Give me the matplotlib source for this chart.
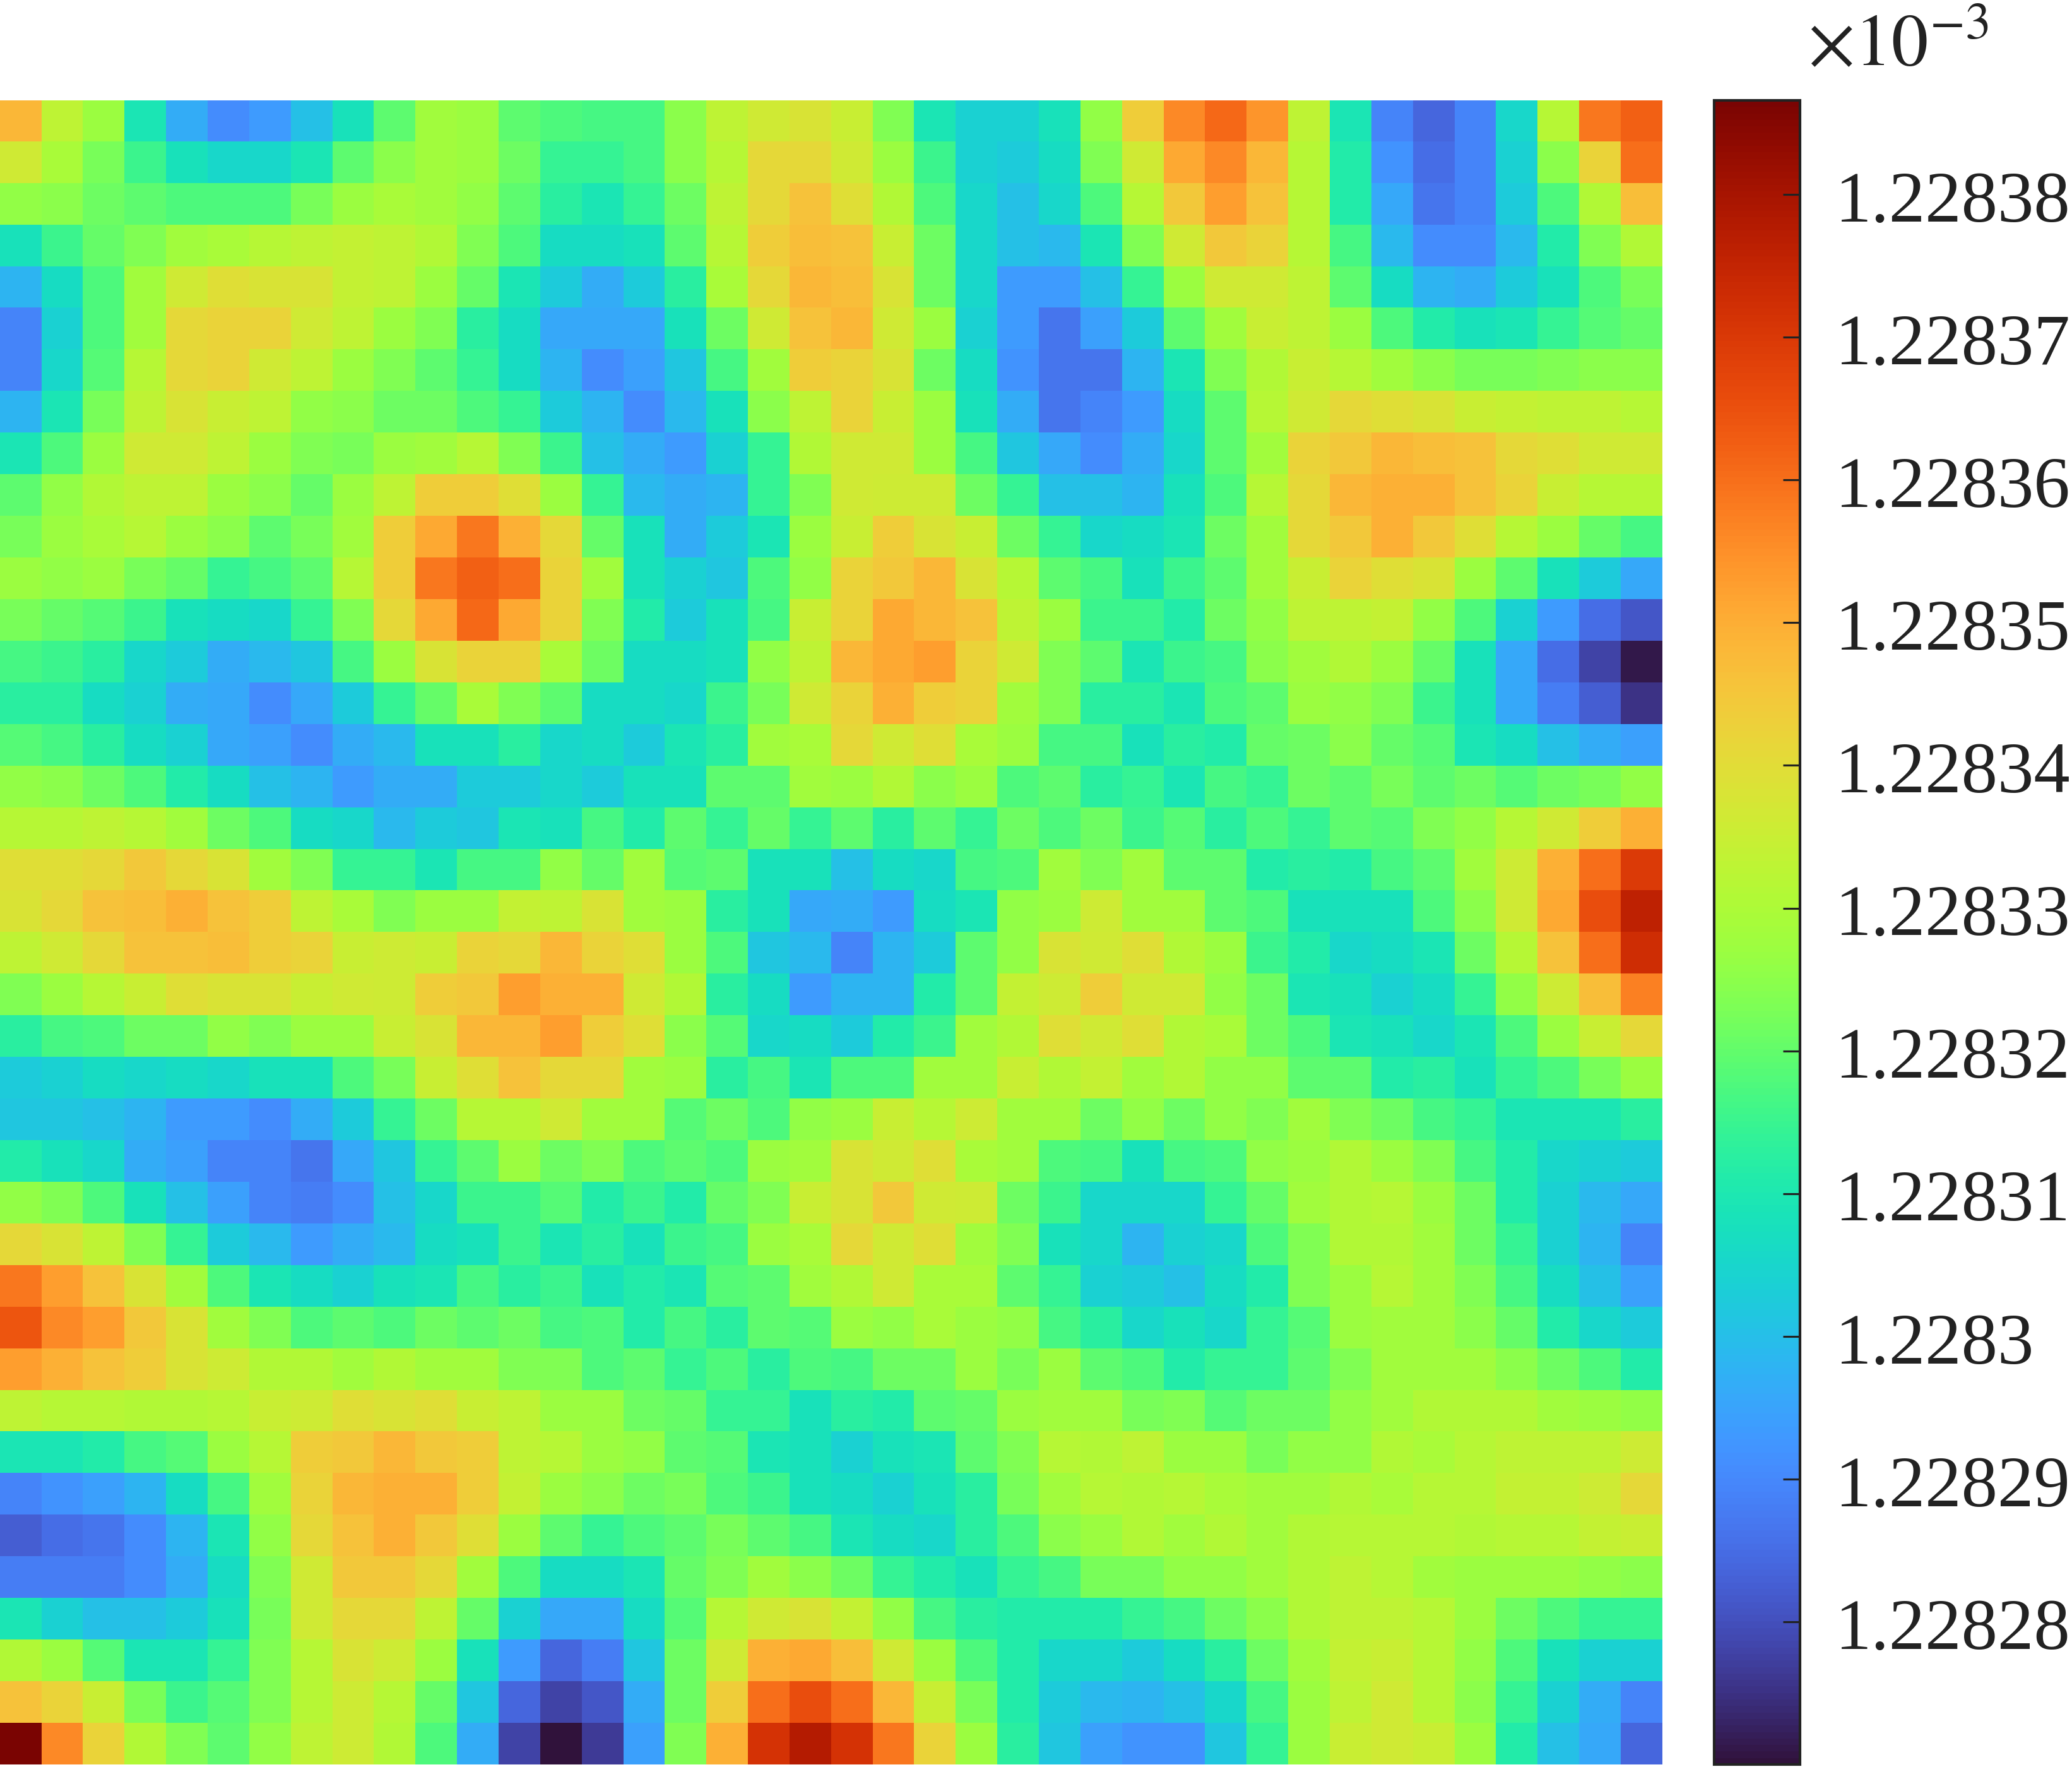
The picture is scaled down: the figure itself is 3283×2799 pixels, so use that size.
import numpy as np
import matplotlib
matplotlib.use("Agg")
import matplotlib.pyplot as plt
from matplotlib.transforms import ScaledTranslation

# Cell values, as colour grades (0 = lowest, 100 = highest)
row00 = [63,50,45,30,20,15,17,23,29,38,46,45,38,36,35,35,43,50,54,55, 52,42,30,26,26,29,44,59,68,72,67,50,30,14,10,14,27,49,70,73]
row01 = [54,47,41,34,29,27,27,30,38,43,46,45,40,33,33,35,43,49,57,57, 54,45,34,26,25,28,42,54,65,68,63,49,31,16,11,14,26,43,58,71]
row02 = [44,43,40,38,36,36,36,41,45,47,46,44,38,32,30,33,40,50,57,61, 56,48,36,27,23,27,36,49,60,66,61,49,31,19,12,14,25,36,48,62]
row03 = [29,34,39,42,46,47,49,50,51,50,48,42,36,28,28,29,38,49,59,62, 61,52,40,27,23,22,30,42,54,60,58,49,35,22,15,15,22,31,42,48]
row04 = [21,28,36,46,54,56,55,55,51,50,45,39,30,25,20,25,32,47,57,63, 62,55,40,27,17,17,23,33,45,54,54,50,38,28,21,20,25,29,36,41]
row05 = [14,26,36,46,57,58,58,54,50,45,42,32,28,19,19,19,29,40,54,61, 63,54,45,26,17,12,18,25,38,46,52,50,45,36,31,29,30,33,37,39]
row06 = [14,27,37,49,57,58,54,50,45,42,38,33,28,21,15,18,24,35,46,59, 58,55,40,28,16,12,12,21,30,42,48,52,49,46,43,41,41,42,43,43]
row07 = [21,30,41,50,55,52,50,44,43,40,40,36,33,25,21,15,22,29,43,50, 58,52,45,29,20,12,14,17,28,38,49,54,57,56,55,52,51,50,50,49]
row08 = [30,36,45,54,54,50,45,42,41,45,46,49,42,34,23,20,17,26,33,48, 54,54,45,35,24,19,15,20,27,38,46,58,60,63,62,61,57,56,54,54]
row09 = [38,44,48,50,50,45,43,39,45,50,59,59,56,45,33,22,20,21,33,42, 54,53,53,40,33,23,23,21,29,36,49,57,63,64,64,61,58,52,49,49]
row10 = [41,45,47,49,45,43,38,41,46,59,65,70,64,57,39,29,20,25,30,45, 52,59,55,52,40,33,27,28,30,40,46,57,60,64,60,56,49,45,39,35]
row11 = [45,44,45,41,39,33,35,38,49,59,70,73,71,58,46,29,26,24,36,44, 58,60,63,55,49,38,35,29,34,38,46,52,58,56,55,45,38,29,25,19]
row12 = [41,39,37,34,29,28,27,33,42,57,65,72,65,58,42,31,25,29,35,52, 58,65,63,61,50,45,34,34,31,40,44,50,50,51,44,36,26,17,11,8]
row13 = [35,34,32,27,25,20,22,24,35,45,55,58,58,47,40,28,28,29,44,50, 63,65,66,58,54,42,38,30,34,35,43,46,48,45,39,29,19,11,6,1]
row14 = [32,32,28,26,20,19,15,19,25,33,39,47,42,38,28,28,27,34,41,54, 58,64,59,58,46,42,32,32,30,36,38,45,44,42,34,29,19,13,9,4]
row15 = [37,35,32,28,26,19,18,15,20,22,29,29,32,27,28,25,30,32,46,47, 57,54,56,47,45,35,35,29,32,31,39,40,43,39,37,30,28,23,20,18]
row16 = [44,43,40,36,31,28,23,21,17,20,20,25,25,27,25,29,29,38,38,46, 45,48,43,45,36,38,32,33,30,35,33,40,38,41,38,40,37,40,41,44]
row17 = [49,49,50,49,46,40,36,28,27,22,25,24,30,29,35,31,38,33,39,33, 38,32,38,33,40,36,40,34,37,32,36,33,38,37,42,44,49,54,59,64]
row18 = [56,56,57,60,57,55,46,42,33,33,30,35,35,44,39,46,37,38,29,29, 23,28,27,35,36,46,42,46,38,38,31,32,31,35,38,46,53,64,71,77]
row19 = [55,57,61,62,64,61,59,50,47,42,45,45,51,50,55,46,45,32,29,19, 20,17,28,30,44,45,53,46,46,38,36,29,29,29,36,43,54,65,75,85]
row20 = [50,54,57,61,61,62,59,58,52,53,52,58,57,63,58,56,45,36,24,22, 14,21,25,38,44,55,54,56,48,45,34,31,27,28,30,40,49,61,71,80]
row21 = [42,45,49,52,56,55,55,52,54,53,59,60,66,64,64,54,48,32,28,17, 21,21,31,38,51,53,59,54,54,44,40,30,29,26,28,33,44,53,62,69]
row22 = [32,35,36,40,40,44,42,45,45,52,55,63,63,66,59,56,43,37,27,28, 25,31,34,46,48,56,54,56,48,47,40,36,30,29,27,30,36,45,52,57]
row23 = [25,26,28,27,28,27,29,29,36,41,52,56,61,57,57,46,45,32,35,30, 36,36,46,46,52,48,51,46,48,44,44,38,38,31,32,29,33,36,41,45]
row24 = [24,24,23,21,17,17,15,20,25,33,40,49,49,54,46,46,37,40,36,44, 45,52,49,53,46,46,40,44,40,44,42,46,42,40,35,33,30,30,30,32]
row25 = [31,29,27,20,18,14,14,12,19,24,33,38,45,40,42,36,38,36,45,46, 55,54,56,47,46,36,35,29,35,36,44,45,48,45,42,35,31,27,26,25]
row26 = [44,42,36,29,23,18,14,13,15,23,27,34,34,37,31,34,31,39,42,52, 55,60,54,53,40,34,27,27,27,33,39,46,48,49,45,40,31,26,22,19]
row27 = [57,55,50,42,33,25,22,17,20,22,28,29,34,30,32,29,34,35,45,47, 57,54,56,46,42,29,27,21,26,27,36,42,48,48,46,40,33,26,21,14]
row28 = [70,66,61,55,46,36,30,28,26,29,30,35,32,34,29,31,30,37,38,46, 48,54,47,47,38,33,26,25,23,28,31,42,45,49,46,42,35,28,23,18]
row29 = [74,68,66,60,55,46,42,36,38,36,40,38,40,35,36,31,35,32,38,37, 45,44,47,45,44,35,32,27,29,27,33,37,45,46,46,43,39,31,27,25]
row30 = [66,64,61,59,55,53,48,48,46,48,46,46,42,42,36,38,33,36,32,36, 35,40,40,45,41,45,38,36,31,33,33,38,42,46,46,46,43,40,36,31]
row31 = [50,49,49,48,48,49,52,53,56,55,56,52,50,45,45,40,39,33,33,29, 32,31,38,39,45,46,46,41,42,37,40,40,44,46,48,48,48,46,45,44]
row32 = [30,30,31,35,37,45,49,59,60,63,60,59,50,49,45,44,38,37,30,29, 26,29,30,38,42,49,48,50,45,45,41,44,44,48,47,49,50,50,50,53]
row33 = [14,16,18,21,28,35,46,58,63,64,64,59,51,45,43,40,41,36,34,29, 28,26,29,32,41,46,49,48,49,47,46,46,48,47,49,49,51,51,53,57]
row34 = [9,11,12,15,21,30,44,57,61,64,60,56,45,38,33,36,38,41,38,35, 30,28,27,32,36,43,45,48,46,48,46,48,49,49,49,48,49,49,51,52]
row35 = [13,13,13,15,20,28,42,54,60,60,57,46,36,28,28,30,39,42,46,43, 40,33,31,29,33,35,41,41,44,44,46,48,50,49,46,45,45,45,44,43]
row36 = [30,26,23,23,25,29,41,54,57,57,50,39,26,19,19,28,37,49,54,55, 51,44,35,32,31,31,31,33,35,40,43,48,50,50,49,45,40,36,33,33]
row37 = [48,45,37,30,30,33,42,49,55,53,45,29,17,10,13,24,40,54,64,65, 62,54,45,36,31,27,27,25,28,32,40,46,51,52,49,44,36,29,26,26]
row38 = [61,58,52,41,34,37,42,49,53,49,39,24,10,6,8,20,40,59,71,75, 71,63,52,41,31,25,22,21,23,27,35,45,50,54,49,43,33,26,20,14]
row39 = [100,68,58,48,42,38,44,50,53,48,36,20,6,0,5,18,42,64,78,87, 78,70,58,45,32,24,18,16,16,24,33,45,52,54,52,45,31,23,19,10]

# My colour grades against their place on the colour bar (percent of its height)
grade_read = [0, 1, 6, 10, 14, 17, 20, 23, 26, 29, 33, 36, 40, 45, 50, 54, 58, 61, 64, 66, 70, 73, 75, 78, 85, 100]
bar_place = [0, 1, 7, 12, 16.5, 20, 23, 26, 29, 32.5, 38, 41, 44, 49, 54, 57, 62, 65, 68, 71, 76, 79, 82, 87, 91, 100]

tick_values = [1.22828, 1.22829, 1.2283, 1.22831, 1.22832, 1.22833, 1.22834, 1.22835, 1.22836, 1.22837, 1.22838]
tick_labels = ["1.22828", "1.22829", "1.2283", "1.22831", "1.22832", "1.22833", "1.22834", "1.22835", "1.22836", "1.22837", "1.22838"]
value_low = 1.22827
value_high = 1.2283866

rows = [row00,row01,row02,row03,row04,row05,row06,row07,row08,row09,
        row10,row11,row12,row13,row14,row15,row16,row17,row18,row19,
        row20,row21,row22,row23,row24,row25,row26,row27,row28,row29,
        row30,row31,row32,row33,row34,row35,row36,row37,row38,row39]
grades = np.array(rows, dtype=float)
places = np.interp(grades, grade_read, bar_place)
values = (value_low + places / 100 * (value_high - value_low)) * 1e-3

W, H = 3283, 2799
plt.rcParams['font.family'] = ['Liberation Serif', 'DejaVu Serif']
plt.rcParams['mathtext.fontset'] = 'stix'
fig = plt.figure(figsize=(W / 300, H / 300), dpi=300)

def box(x0, y0, x1, y1):
    return [x0 / W, 1 - y1 / H, (x1 - x0) / W, (y1 - y0) / H]

ax = fig.add_axes(box(0, 159, 2634, 2795))
im = ax.imshow(values, cmap='turbo', vmin=value_low * 1e-3, vmax=value_high * 1e-3,
               interpolation='nearest', aspect='auto')
ax.axis('off')

cax = fig.add_axes(box(2716, 159, 2852, 2795))
cb = fig.colorbar(im, cax=cax)
cb.set_ticks([t * 1e-3 for t in tick_values])
cb.set_ticklabels(tick_labels)
cax.tick_params(axis='y', direction='in', length=6.5, width=0.75, color='#222222',
                labelsize=27.5, labelcolor='#222222', pad=13.5)
cb.outline.set_linewidth(1.0)
cb.outline.set_edgecolor('#222222')
cb.ax.minorticks_off()
shift = ScaledTranslation(0, -3 / 300, fig.dpi_scale_trans)
for label in cax.get_yticklabels():
    label.set_transform(label.get_transform() + shift)

fig.text(2864 / W, 1 - 104 / H, r'$\times 10^{-3}$', fontsize=28, color='#222222',
         ha='left', va='baseline')

fig.savefig('out.png', dpi=300, facecolor='white')
